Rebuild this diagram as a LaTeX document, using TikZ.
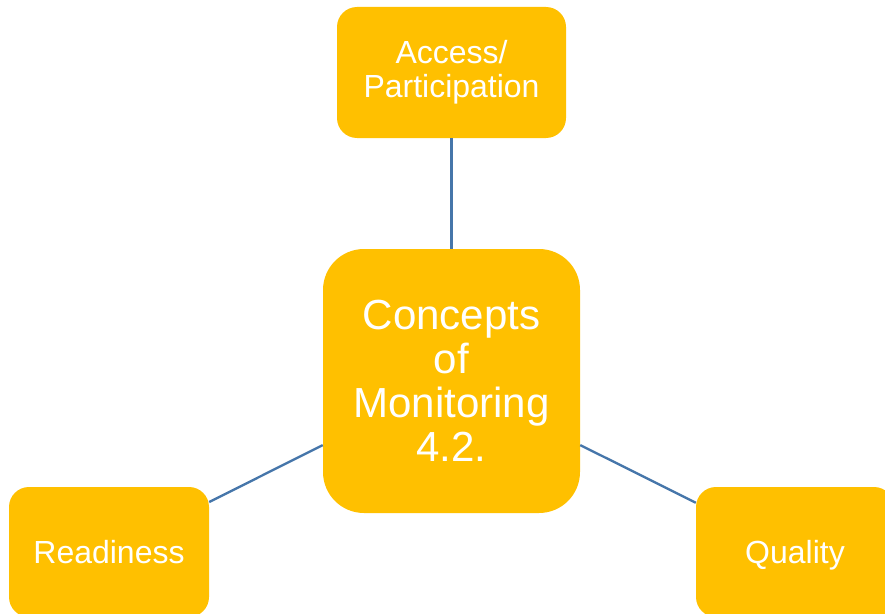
\documentclass[tikz,border=0pt]{standalone}
\usepackage{fontspec}
\setmainfont{Liberation Sans}
\usetikzlibrary{positioning}
\definecolor{boxorange}{HTML}{FFC000}
\definecolor{linkblue}{HTML}{4676AA}
\tikzset{
	concept/.style={draw=none, fill=boxorange, text=white, align=center, inner sep=0pt},
	bigbox/.style={concept, minimum width=7.71cm, minimum height=7.92cm, rounded corners=1.23cm,
		font=\fontsize{35.9pt}{37.6pt}\selectfont},
	smallbox/.style={concept, minimum height=3.9cm, rounded corners=0.6cm,
		font=\fontsize{27.3pt}{29pt}\selectfont},
	oneline/.style={text height=20pt, text depth=0pt},
	link/.style={draw=linkblue, line width=2pt}
}

\begin{document}
\begin{tikzpicture}
\useasboundingbox (0,0) rectangle (26.55,-18.42);
\clip (0,0) rectangle (26.55,-18.42);

\node[bigbox] (monitoring) at (13.545,-11.43) {Concepts\\of\\Monitoring\\4.2.};
\node[smallbox, minimum width=6.87cm, minimum height=3.93cm] (access) at (13.545,-2.175) {Access/\\Participation};
\node[smallbox, oneline, minimum width=6cm] (readiness) at (3.27,-16.56) {Readiness};
\node[smallbox, oneline, minimum width=5.94cm] (quality) at (23.85,-16.56) {Quality};

\draw[link] (monitoring) -- (access);
\draw[link] (monitoring) -- (readiness);
\draw[link] (monitoring) -- (quality);
\end{tikzpicture}
\end{document}
